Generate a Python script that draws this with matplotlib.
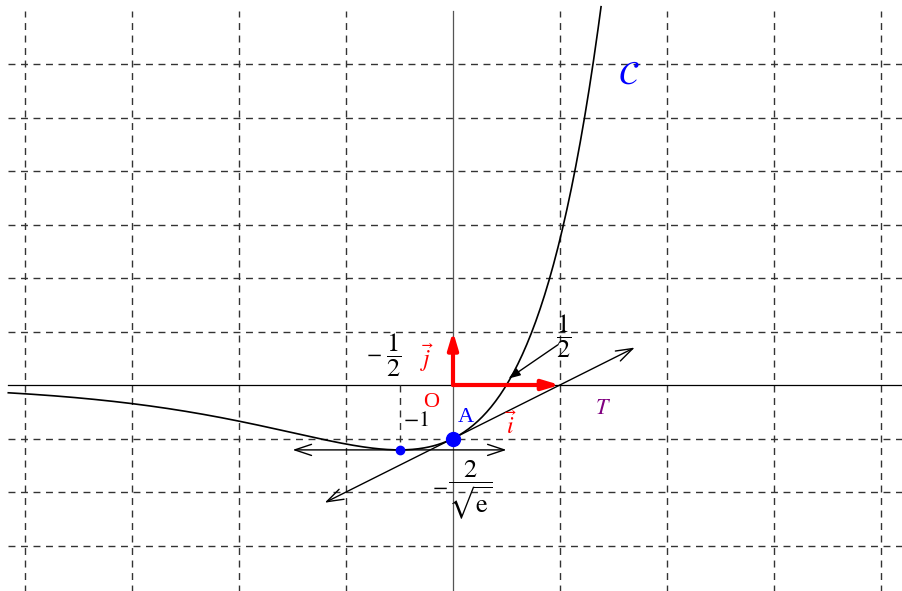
import numpy as np
import matplotlib.pyplot as plt

# f(x) = (2x - 1) e^x, tangent at A(0, -1): y = x - 1
grid_x = [-4, -3, -2, -1, 0, 1, 2, 3, 4]
grid_y = [-3, -2, -1, 0, 1, 2, 3, 4, 5, 6]
curve_x = np.linspace(-4.16, 1.385, 400)
curve_y = (2 * curve_x - 1) * np.exp(curve_x)
point_a = (0, -1)
x_min = -0.5
y_min = -2 / np.sqrt(np.e)
tangent_x = [-1.2, 1.7]
tangent_y = [x - 1 for x in tangent_x]
flat_x = [x_min - 1, x_min + 1]


def main():
    plt.rcParams["mathtext.fontset"] = "stix"
    plt.rcParams["font.family"] = ["Liberation Serif", "DejaVu Serif"]

    fig = plt.figure(figsize=(9.03, 5.91), dpi=100)
    ax = fig.add_axes([0, 0, 1, 1])
    ax.set_xlim(-453 / 106.9, 450 / 106.9)
    ax.set_ylim(-206 / 53.5, 385 / 53.5)
    ax.axis("off")

    dash = dict(color="#333333", lw=1.0, linestyle=(0, (5, 4)))
    for gx in grid_x:
        if gx != 0:
            ax.plot([gx, gx], [-3.9, 7.0], **dash)
    for gy in grid_y:
        if gy != 0:
            ax.plot([-4.16, 4.3], [gy, gy], **dash)

    # axes
    ax.plot([-4.16, 4.3], [0, 0], color="black", lw=0.9)
    ax.plot([0, 0], [-3.9, 7.0], color="#555555", lw=0.9)

    # curve
    ax.plot(curve_x, curve_y, color="black", lw=1.2)

    # dashed vertical at x = -1/2
    ax.plot([x_min, x_min], [0, y_min], **dash)

    # horizontal tangent at the minimum
    ax.annotate("", xy=(flat_x[0], y_min), xytext=(flat_x[1], y_min),
                arrowprops=dict(arrowstyle="<->,head_length=1.2,head_width=0.4",
                                color="black", lw=1.0, shrinkA=0, shrinkB=0))
    # tangent T
    ax.annotate("", xy=(tangent_x[0], tangent_y[0]), xytext=(tangent_x[1], tangent_y[1]),
                arrowprops=dict(arrowstyle="<->,head_length=1.2,head_width=0.4",
                                color="black", lw=1.0, shrinkA=0, shrinkB=0))

    # vectors i and j
    ax.annotate("", xy=(1, 0), xytext=(0, 0),
                arrowprops=dict(arrowstyle="-|>,head_length=1.0,head_width=0.3",
                                color="red", lw=3, shrinkA=0, shrinkB=0))
    ax.annotate("", xy=(0, 1), xytext=(0, 0),
                arrowprops=dict(arrowstyle="-|>,head_length=1.0,head_width=0.3",
                                color="red", lw=3, shrinkA=0, shrinkB=0))

    # arrow to (1/2, 0)
    ax.annotate("", xy=(0.52, 0.12), xytext=(0.98, 0.75),
                arrowprops=dict(arrowstyle="-|>,head_length=0.7,head_width=0.25",
                                color="black", lw=1.0, shrinkA=0, shrinkB=0))

    # points
    ax.plot(*point_a, "o", color="blue", ms=10, zorder=5)
    ax.plot(x_min, y_min, "o", color="blue", ms=6, zorder=5)

    # labels
    ax.text(1.64, 5.79, r"$\mathbf{\mathcal{C}}$", color="blue", fontsize=24,
            ha="center", va="center")
    ax.text(1.40, -0.45, r"$T$", color="purple", fontsize=16, ha="center", va="center")
    ax.text(0.12, -0.60, "A", color="blue", fontsize=16, ha="center", va="center")
    ax.text(-0.20, -0.32, "O", color="red", fontsize=16, ha="center", va="center")
    ax.text(0.54, -0.75, r"$\vec{i}$", color="red", fontsize=17, ha="center", va="center")
    ax.text(-0.24, 0.52, r"$\vec{j}$", color="red", fontsize=17, ha="center", va="center")
    ax.text(-0.35, -0.68, r"$-1$", color="black", fontsize=16, ha="center", va="center")

    ax.text(-0.56, 0.55, r"$\dfrac{1}{2}$", color="black", fontsize=19, ha="center", va="center")
    ax.text(-0.74, 0.55, r"$-$", color="black", fontsize=16, ha="center", va="center")
    ax.text(1.03, 0.9, r"$\dfrac{1}{2}$", color="black", fontsize=19, ha="center", va="center")
    ax.text(0.16, -1.97, r"$\dfrac{2}{\sqrt{\mathrm{e}}}$", color="black", fontsize=19,
            ha="center", va="center")
    ax.text(-0.12, -1.93, r"$-$", color="black", fontsize=16, ha="center", va="center")

    fig.savefig("out.png", dpi=100)
    plt.close(fig)


if __name__ == "__main__":
    main()
